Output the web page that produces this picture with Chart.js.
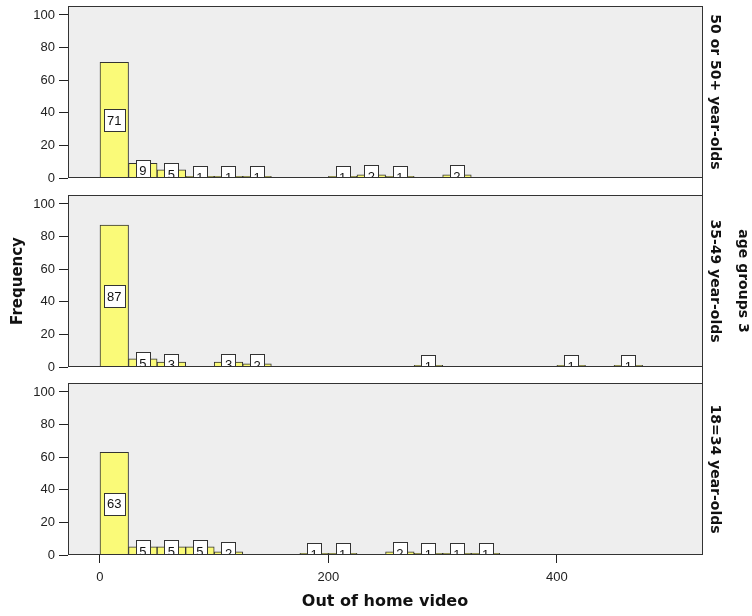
<!DOCTYPE html>
<html>
<head>
<meta charset="utf-8">
<script src="https://cdn.jsdelivr.net/npm/chart.js@4.4.1/dist/chart.umd.min.js"></script>
<style>
  html, body { margin: 0; padding: 0; background: #fff; }
  #wrap { position: relative; width: 752px; height: 616px; overflow: hidden; }
  .panel { position: absolute; left: 0; width: 752px; }
  .panel canvas { display: block; }
</style>
</head>
<body>
<div id="wrap">
  <div class="panel" style="top:0;height:189px"><canvas id="p1" width="752" height="189"></canvas></div>
  <div class="panel" style="top:189px;height:188px"><canvas id="p2" width="752" height="188"></canvas></div>
  <div class="panel" style="top:377px;height:239px"><canvas id="p3" width="752" height="239"></canvas></div>
</div>
<script>
// histogram bins are 25 wide, values are bin midpoints
const binMids50 = [12.5, 37.5, 62.5, 87.5, 112.5, 137.5, 212.5, 237.5, 262.5, 312.5];
const counts50 = [71, 9, 5, 1, 1, 1, 1, 2, 1, 2];
const binMids35 = [12.5, 37.5, 62.5, 112.5, 137.5, 287.5, 412.5, 462.5];
const counts35 = [87, 5, 3, 3, 2, 1, 1, 1];
const binMids18 = [12.5, 37.5, 62.5, 87.5, 112.5, 187.5, 212.5, 262.5, 287.5, 312.5, 337.5];
const counts18 = [63, 5, 5, 5, 2, 1, 1, 2, 1, 1, 1];
const panelLabels = ['50 or 50+ year-olds', '35-49 year-olds', '18=34 year-olds'];
const groupTitle = 'age groups 3';
const xTicks = [0, 200, 400];
const yTicks = [0, 20, 40, 60, 80, 100];
const xMin = -28, xMax = 527;
const yMax = 105.5;

const tickFont = { family: '"Liberation Sans", Arial, sans-serif', size: 13 };
const boldFont = '"DejaVu Sans", Verdana, sans-serif';

const panelDecor = {
    id: 'panelDecor',
    beforeDraw(chart) {
        const { ctx, chartArea: a } = chart;
        ctx.save();
        ctx.fillStyle = '#eeeeee';
        ctx.fillRect(a.left, a.top, a.right - a.left, a.bottom - a.top);
        ctx.restore();
    },
    afterDatasetsDraw(chart) {
        const { ctx, chartArea: a } = chart;
        const opts = chart.options.plugins.panelDecor;
        const meta = chart.getDatasetMeta(0);
        const ds = chart.data.datasets[0];
        const yScale = chart.scales.y;

        // value boxes, clipped to the plot
        ctx.save();
        ctx.beginPath();
        ctx.rect(a.left, a.top, a.right - a.left, a.bottom - a.top);
        ctx.clip();
        ctx.font = '13px "Liberation Sans", Arial, sans-serif';
        ctx.textAlign = 'center';
        ctx.textBaseline = 'middle';
        meta.data.forEach((bar, i) => {
            const v = ds.data[i].y;
            const cy = yScale.getPixelForValue(v / 2);
            const text = String(v);
            const w = Math.round(ctx.measureText(text).width + 7);
            const h = 22;
            const bx = Math.round(bar.x - w / 2) + 0.5;
            const by = Math.round(cy - h / 2) + 0.5;
            ctx.fillStyle = '#ffffff';
            ctx.fillRect(bx, by, w, h);
            ctx.strokeStyle = '#333333';
            ctx.lineWidth = 1;
            ctx.strokeRect(bx, by, w, h);
            ctx.fillStyle = '#111111';
            ctx.fillText(text, bar.x, cy + 1);
        });
        ctx.restore();

        // frame
        ctx.save();
        ctx.strokeStyle = '#333333';
        ctx.lineWidth = 1;
        const l = Math.round(a.left) + 0.5, r = Math.round(a.right) + 0.5;
        const t = Math.round(a.top) + 0.5, b = Math.round(a.bottom) - 0.5;
        ctx.strokeRect(l, t, r - l, b - t);
        // right edge runs on through the gaps between panels
        ctx.beginPath();
        ctx.moveTo(r, opts.lineUp ? 0 : t);
        ctx.lineTo(r, opts.lineDown ? chart.height : b);
        ctx.stroke();
        ctx.restore();
    },
    afterDraw(chart) {
        const { ctx, chartArea: a } = chart;
        const opts = chart.options.plugins.panelDecor;
        const cy = (a.top + a.bottom) / 2;
        ctx.save();
        ctx.fillStyle = '#111111';
        ctx.font = 'bold 14px ' + boldFont;
        ctx.textAlign = 'center';
        ctx.textBaseline = 'middle';
        ctx.translate(a.right + 13, cy);
        ctx.rotate(Math.PI / 2);
        ctx.fillText(opts.strip, 0, 0);
        if (opts.outer) {
            ctx.fillText(opts.outer, 0, -28);
        }
        ctx.restore();
    }
};

function makePanel(id, mids, counts, idx) {
    const isLast = idx === 2;
    const pads = [
        { top: 6, right: 50, bottom: 11, left: 0 },
        { top: 6, right: 50, bottom: 10, left: 0 },
        { top: 6, right: 50, bottom: 0, left: 0 }
    ];
    return new Chart(document.getElementById(id), {
        type: 'bar',
        data: {
            datasets: [{
                data: mids.map((m, i) => ({ x: m, y: counts[i] })),
                backgroundColor: '#fafa78',
                borderColor: '#333333',
                borderWidth: 1,
                barPercentage: 1,
                categoryPercentage: 1
            }]
        },
        options: {
            responsive: false,
            animation: false,
            devicePixelRatio: 1,
            layout: { padding: pads[idx] },
            plugins: {
                legend: { display: false },
                tooltip: { enabled: false },
                panelDecor: {
                    strip: panelLabels[idx],
                    outer: idx === 1 ? groupTitle : null,
                    lineUp: idx > 0,
                    lineDown: idx < 2
                }
            },
            scales: {
                x: {
                    type: 'linear',
                    min: xMin,
                    max: xMax,
                    offset: false,
                    display: isLast,
                    grid: { offset: false, drawOnChartArea: false, drawTicks: true, tickLength: 8, color: '#222' },
                    border: { display: false },
                    ticks: { font: tickFont, color: '#222', padding: 7, maxRotation: 0 },
                    afterBuildTicks: (scale) => { scale.ticks = xTicks.map(v => ({ value: v })); },
                    afterFit: (scale) => {
                        scale.height = isLast ? 61 : 0;
                        scale.paddingLeft = 0;
                        scale.paddingRight = 0;
                    },
                    title: {
                        display: isLast,
                        text: 'Out of home video',
                        font: { family: boldFont, size: 16, weight: 'bold' },
                        color: '#111',
                        padding: { top: 0, bottom: 5 }
                    }
                },
                y: {
                    min: 0,
                    max: yMax,
                    grid: { drawOnChartArea: false, drawTicks: true, tickLength: 9, color: '#222' },
                    border: { display: false },
                    ticks: { font: tickFont, color: '#222', padding: 4 },
                    afterBuildTicks: (scale) => { scale.ticks = yTicks.map(v => ({ value: v })); },
                    afterFit: (scale) => {
                        scale.width = 68;
                        scale.paddingTop = 0;
                        scale.paddingBottom = 0;
                    },
                    title: {
                        display: idx === 1,
                        text: 'Frequency',
                        font: { family: boldFont, size: 15, weight: 'bold' },
                        color: '#111',
                        padding: { top: 9, bottom: 0 }
                    }
                }
            }
        },
        plugins: [panelDecor]
    });
}

makePanel('p1', binMids50, counts50, 0);
makePanel('p2', binMids35, counts35, 1);
makePanel('p3', binMids18, counts18, 2);
</script>
</body>
</html>
